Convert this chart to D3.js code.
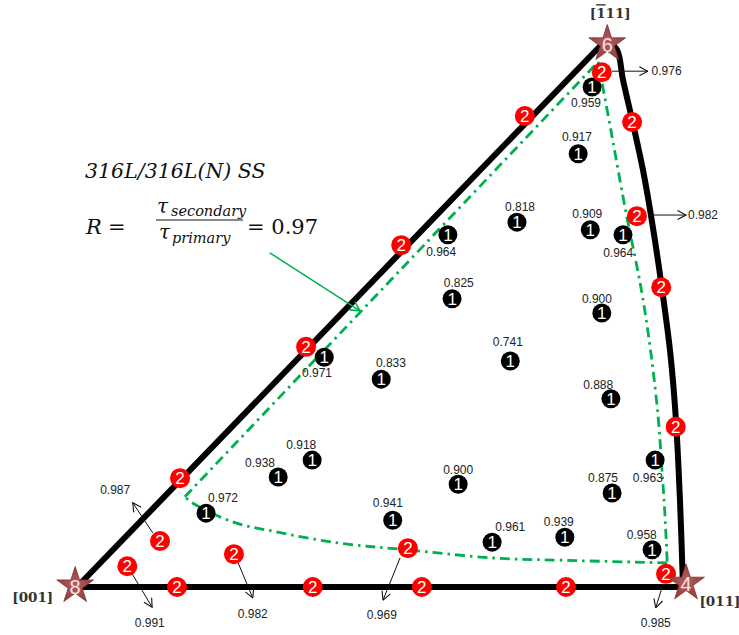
<!DOCTYPE html>
<html><head><meta charset="utf-8">
<script src="https://cdn.jsdelivr.net/npm/d3@7"></script>
<style>body{margin:0;background:#fff}</style>
</head><body>
<svg id="c" width="739" height="635"></svg>
<script>
// ---------- DATA (stereographic-triangle units: u 0..100 from [001] to [011], v 0..100 bottom to top) ----------
// each pole label is split into [prefix, overlined part, suffix]
const poleNames = [["[001]", "", ""], ["[011]", "", ""], ["[", "1", "11]"]];
const poleMult = ["8", "4", "6"];
const poleU = [-0.3, 100.5, 87.5];
const poleV = [0.2, 0.7, 99.3];
const poleLabelU = [-7.3, 106.1, 88.0];
const poleLabelV = [-1.8, -2.6, 104.9];

const edgeLeft = [[0, 0], [87.3, 100]];
const edgeBottom = [[0, 0], [100, 0]];
const edgeRight = [[87.3, 100], [89.1, 98.2], [90.1, 92.7], [91.6, 85.4], [93.4, 76.2], [94.9, 66.7],
                   [96.5, 54.8], [97.9, 42.8], [98.8, 31.1], [99.5, 15.9], [100, 0]];

// boundary of R = 0.97 (green dash-dot)
const greenLeft = [[17.8, 16.5], [86.0, 96.0]];
const greenRight = [[86.0, 96.0], [88.1, 83.5], [90.6, 68.4], [93.1, 54.5], [94.7, 42.8], [95.9, 31.1],
                    [96.5, 21.9], [97.0, 13.5], [97.4, 4.4]];
const greenBottom = [[97.4, 4.4], [79.7, 4.9], [68.6, 5.3], [54.5, 6.8], [43.4, 8.0], [32.3, 10.2],
                     [25.7, 11.9], [19.0, 15.4], [17.8, 16.5]];

// single-slip orientations (marker "1") with their R values
const oneU = [85.0, 82.7, 72.6, 61.2, 84.7, 90.1, 61.9, 86.6, 71.5, 40.8, 50.2, 88.1, 38.8, 33.2, 21.3, 62.9, 95.4, 88.3, 52.1, 68.5, 80.5, 94.9];
const oneV = [91.4, 79.2, 66.7, 64.4, 65.3, 64.4, 52.7, 50.1, 41.3, 42.0, 38.0, 34.4, 23.2, 20.1, 13.5, 18.8, 23.2, 17.2, 12.2, 8.2, 9.1, 6.8];
const oneR = ["0.959", "0.917", "0.818", "0.964", "0.909", "0.964", "0.825", "0.900", "0.741", "0.971", "0.833", "0.888",
              "0.918", "0.938", "0.972", "0.900", "0.963", "0.875", "0.941", "0.961", "0.939", "0.958"];
const oneLabelU = [84.0, 82.5, 73.1, 60.1, 84.2, 89.3, 63.0, 85.8, 71.1, 39.6, 51.8, 86.0, 37.0, 30.2, 24.1, 62.9, 94.2, 86.8, 51.3, 71.5, 79.5, 93.2];
const oneLabelV = [88.5, 82.2, 69.5, 61.2, 68.2, 61.1, 55.6, 52.7, 44.8, 39.1, 41.0, 37.0, 26.0, 22.7, 16.3, 21.4, 19.9, 19.9, 15.4, 11.0, 11.9, 9.5];

// double-slip orientations (marker "2")
const twoU = [86.6, 91.6, 92.4, 96.4, 98.8, 97.2, 73.9, 53.5, 37.8, 17.0, 13.7, 8.3, 25.9, 54.6, 16.5, 38.9, 56.9, 80.7];
const twoV = [94.1, 85.0, 67.8, 54.8, 29.3, 2.4, 86.1, 62.5, 43.9, 19.9, 8.4, 3.8, 6.0, 7.1, 0, 0, 0, 0];

// arrows from double-slip points to their R value
const arrFromU = [88.3, 94.4, 12.5, 9.1, 26.6, 53.3, 96.7];
const arrFromV = [94.3, 68.0, 9.9, 2.4, 4.4, 5.3, 0.5];
const arrToU = [94.2, 100.5, 9.2, 12.4, 29.0, 50.5, 95.5];
const arrToV = [94.3, 68.0, 15.4, -3.7, -2.0, -2.4, -3.8];
const arrR = ["0.976", "0.982", "0.987", "0.991", "0.982", "0.969", "0.985"];
const arrLabelU = [97.3, 103.3, 6.3, 12.0, 29.0, 50.3, 95.5];
const arrLabelV = [94.3, 68.0, 17.7, -6.6, -4.9, -5.1, -6.6];

// green pointer from the formula to the boundary
const pointerFrom = [31.8, 61.1];
const pointerTo = [46.7, 50.5];

// ---------- DRAW ----------
const svg = d3.select("#c");
const x = d3.scaleLinear().domain([0, 100]).range([77, 683]);
const y = d3.scaleLinear().domain([0, 100]).range([587, 40]);
const straight = d3.line().x(d => x(d[0])).y(d => y(d[1]));
const smooth = d3.line().x(d => x(d[0])).y(d => y(d[1])).curve(d3.curveCatmullRom.alpha(0.5));
const sans = "Liberation Sans, Arial, sans-serif";
const serif = "DejaVu Serif, serif";

const defs = svg.append("defs");
defs.append("marker").attr("id", "ahB").attr("viewBox", "0 0 10 10").attr("refX", 9.5).attr("refY", 5)
  .attr("markerWidth", 10).attr("markerHeight", 10).attr("markerUnits", "userSpaceOnUse").attr("orient", "auto")
  .append("path").attr("d", "M1,0.5 L9.5,5 L1,9.5").attr("fill", "none").attr("stroke", "#111").attr("stroke-width", 1.1);
defs.append("marker").attr("id", "ahG").attr("viewBox", "0 0 10 10").attr("refX", 9.5).attr("refY", 5)
  .attr("markerWidth", 11).attr("markerHeight", 11).attr("markerUnits", "userSpaceOnUse").attr("orient", "auto")
  .append("path").attr("d", "M1,0.5 L9.5,5 L1,9.5").attr("fill", "none").attr("stroke", "#00b050").attr("stroke-width", 1.4);
const grad = defs.append("radialGradient").attr("id", "starG");
grad.append("stop").attr("offset", "0%").attr("stop-color", "#b45c5c");
grad.append("stop").attr("offset", "100%").attr("stop-color", "#93403f");

// triangle
[edgeLeft, edgeBottom].forEach(e => svg.append("path").attr("d", straight(e))
  .attr("fill", "none").attr("stroke", "#000").attr("stroke-width", 6));
svg.append("path").attr("d", smooth(edgeRight)).attr("fill", "none").attr("stroke", "#000").attr("stroke-width", 6);

// green boundary
svg.append("path").attr("d", straight(greenLeft)).attr("fill", "none").attr("stroke", "#00b050")
  .attr("stroke-width", 2.8).attr("stroke-dasharray", "10,5,2.5,5");
[greenRight, greenBottom].forEach(g => svg.append("path").attr("d", smooth(g)).attr("fill", "none")
  .attr("stroke", "#00b050").attr("stroke-width", 2.8).attr("stroke-dasharray", "10,5,2.5,5"));

// green pointer
svg.append("line").attr("x1", x(pointerFrom[0])).attr("y1", y(pointerFrom[1]))
  .attr("x2", x(pointerTo[0])).attr("y2", y(pointerTo[1]))
  .attr("stroke", "#00b050").attr("stroke-width", 1.5).attr("marker-end", "url(#ahG)");

// arrows
arrR.forEach((r, i) => {
  svg.append("line").attr("x1", x(arrFromU[i])).attr("y1", y(arrFromV[i]))
    .attr("x2", x(arrToU[i])).attr("y2", y(arrToV[i]))
    .attr("stroke", "#111").attr("stroke-width", 1).attr("marker-end", "url(#ahB)");
  svg.append("text").attr("x", x(arrLabelU[i])).attr("y", y(arrLabelV[i])).attr("text-anchor", "middle")
    .attr("dominant-baseline", "central").attr("font-family", sans)
    .attr("font-size", 12).attr("fill", "#222").text(r);
});

// single-slip markers
oneR.forEach((r, i) => {
  svg.append("circle").attr("cx", x(oneU[i])).attr("cy", y(oneV[i])).attr("r", 9.5).attr("fill", "#000");
  svg.append("text").attr("x", x(oneU[i])).attr("y", y(oneV[i]) + 0.5).attr("text-anchor", "middle")
    .attr("dominant-baseline", "central").attr("font-family", sans)
    .attr("font-size", 17).attr("fill", "#fff").text("1");
  svg.append("text").attr("x", x(oneLabelU[i])).attr("y", y(oneLabelV[i])).attr("text-anchor", "middle")
    .attr("dominant-baseline", "central").attr("font-family", sans)
    .attr("font-size", 12).attr("fill", "#222").text(r);
});

// double-slip markers
twoU.forEach((u, i) => {
  svg.append("circle").attr("cx", x(u)).attr("cy", y(twoV[i])).attr("r", 10).attr("fill", "#ff0000");
  svg.append("text").attr("x", x(u)).attr("y", y(twoV[i]) + 0.5).attr("text-anchor", "middle")
    .attr("dominant-baseline", "central").attr("font-family", sans)
    .attr("font-size", 17).attr("fill", "#fff").text("2");
});

// poles (stars)
const star = d3.symbol().type(d3.symbolStar).size(420);
poleNames.forEach((n, i) => {
  svg.append("path").attr("d", star()).attr("transform", `translate(${x(poleU[i])},${y(poleV[i])})`)
    .attr("fill", "url(#starG)").attr("stroke", "#7d3534").attr("stroke-width", 0.8);
  svg.append("text").attr("x", x(poleU[i])).attr("y", y(poleV[i]) + 1).attr("text-anchor", "middle")
    .attr("dominant-baseline", "central").attr("font-family", sans)
    .attr("font-size", 20).attr("fill", "#f6e4e4").text(poleMult[i]);
  const t = svg.append("text").attr("x", x(poleLabelU[i])).attr("y", y(poleLabelV[i])).attr("text-anchor", "middle")
    .attr("dominant-baseline", "central").attr("font-family", serif).attr("font-weight", "bold")
    .attr("font-size", 13.5).attr("fill", "#333");
  t.append("tspan").text(n[0]);
  if (n[1]) t.append("tspan").attr("text-decoration", "overline").style("text-decoration", "overline").text(n[1]);
  if (n[2]) t.append("tspan").text(n[2]);
});

// title & formula
svg.append("text").attr("x", 85).attr("y", 178).attr("font-family", serif).attr("font-style", "italic")
  .attr("font-size", 20.5).attr("fill", "#111").text("316L/316L(N) SS");
svg.append("text").attr("x", 86).attr("y", 234).attr("font-family", serif).attr("font-style", "italic")
  .attr("font-size", 21).attr("fill", "#111").text("R");
svg.append("text").attr("x", 108).attr("y", 234).attr("font-family", serif)
  .attr("font-size", 21).attr("fill", "#111").text("=");
svg.append("line").attr("x1", 156).attr("x2", 243).attr("y1", 220).attr("y2", 220).attr("stroke", "#111").attr("stroke-width", 1.2);
svg.append("text").attr("x", 157).attr("y", 213).attr("font-family", serif).attr("font-style", "italic")
  .attr("font-size", 20).attr("fill", "#111").text("τ");
svg.append("text").attr("x", 171).attr("y", 216).attr("font-family", serif).attr("font-style", "italic")
  .attr("font-size", 14.5).attr("fill", "#111").text("secondary");
svg.append("text").attr("x", 159).attr("y", 239).attr("font-family", serif).attr("font-style", "italic")
  .attr("font-size", 20).attr("fill", "#111").text("τ");
svg.append("text").attr("x", 172).attr("y", 243).attr("font-family", serif).attr("font-style", "italic")
  .attr("font-size", 14.5).attr("fill", "#111").text("primary");
svg.append("text").attr("x", 247).attr("y", 234).attr("font-family", serif)
  .attr("font-size", 21).attr("fill", "#111").text("= 0.97");
</script>
</body></html>
